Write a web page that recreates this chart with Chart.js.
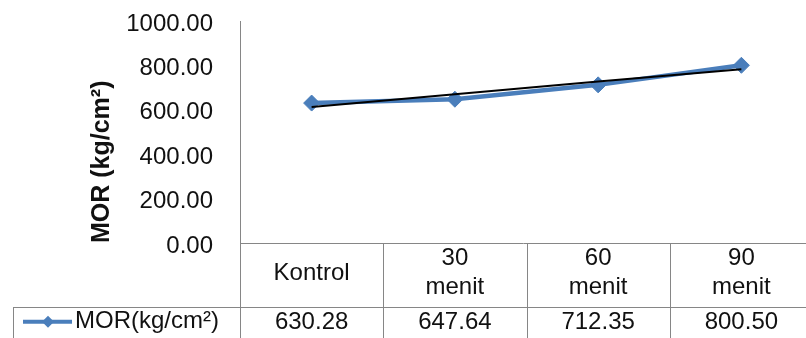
<!DOCTYPE html>
<html>
<head>
<meta charset="utf-8">
<script src="https://cdn.jsdelivr.net/npm/chart.js@4"></script>
<style>
    html, body { margin: 0; padding: 0; overflow: hidden; background: #fff; }
    canvas { display: block; }
</style>
</head>
<body>
<canvas id="lineChart" width="806" height="338"></canvas>
<script>
// Chart data
var categories = [['Kontrol'], ['30', 'menit'], ['60', 'menit'], ['90', 'menit']];
var morValues = [630.28, 647.64, 712.35, 800.50];
var trendValues = [613, 670, 727, 783];
var yTicks = [0, 200, 400, 600, 800, 1000];
var seriesName = 'MOR(kg/cm²)';
var axisTitle = 'MOR (kg/cm²)';

var FONT = '"Liberation Sans", Arial, sans-serif';
var BLUE = '#4A7EBB';
var GRID = '#868686';
var TEXT = '#111';
var PLOT_RIGHT = 813; // the source plot runs a few px past the right edge

// stretch the x scale past the canvas edge
var widePlot = {
    id: 'widePlot',
    afterLayout: function (chart) {
        var x = chart.scales.x;
        x.right = PLOT_RIGHT;
        x.width = PLOT_RIGHT - x.left;
        x.configure();
        chart.chartArea.right = PLOT_RIGHT;
        chart.chartArea.width = PLOT_RIGHT - chart.chartArea.left;
    }
};

// Excel style data table under the plot
var dataTable = {
    id: 'dataTable',
    afterDraw: function (chart) {
        var ctx = chart.ctx;
        var x = chart.scales.x;
        var top = chart.chartArea.bottom;
        var mid = 307.5;
        var bottom = chart.height;
        var labels = chart.data.labels;
        var half = (x.getPixelForValue(1) - x.getPixelForValue(0)) / 2;

        ctx.save();
        ctx.strokeStyle = GRID;
        ctx.lineWidth = 1;
        ctx.beginPath();
        for (var i = 0; i <= labels.length; i++) {
            var px = Math.round(x.getPixelForValue(0) - half + i * 2 * half) + 0.5;
            ctx.moveTo(px, top);
            ctx.lineTo(px, bottom);
        }
        ctx.moveTo(13, mid);
        ctx.lineTo(x.right, mid);
        ctx.moveTo(13.5, mid);
        ctx.lineTo(13.5, bottom);
        ctx.stroke();

        ctx.fillStyle = TEXT;
        ctx.font = '24px ' + FONT;
        ctx.textAlign = 'center';
        ctx.textBaseline = 'middle';
        var headMid = (top + mid) / 2;
        var rowMid = (mid + bottom) / 2;
        labels.forEach(function (lines, i) {
            var cx = x.getPixelForValue(i);
            lines.forEach(function (t, j) {
                ctx.fillText(t, cx, headMid - 2 + (j - (lines.length - 1) / 2) * 29);
            });
            ctx.fillText(morValues[i].toFixed(2), cx, rowMid);
        });

        // legend key
        var ds = chart.data.datasets[1];
        ctx.strokeStyle = ds.borderColor;
        ctx.lineWidth = 4;
        ctx.beginPath();
        ctx.moveTo(23, rowMid - 1);
        ctx.lineTo(72, rowMid - 1);
        ctx.stroke();
        ctx.fillStyle = ds.borderColor;
        ctx.beginPath();
        ctx.moveTo(48, rowMid - 7);
        ctx.lineTo(54, rowMid - 1);
        ctx.lineTo(48, rowMid + 5);
        ctx.lineTo(42, rowMid - 1);
        ctx.closePath();
        ctx.fill();
        ctx.fillStyle = TEXT;
        ctx.textAlign = 'left';
        ctx.fillText(seriesName, 75, rowMid - 1);
        ctx.restore();
    }
};

var ctx = document.getElementById('lineChart').getContext('2d');

var lineChart = new Chart(ctx, {
    type: 'line',
    data: {
        labels: categories,
        datasets: [{
            label: 'Linear',
            data: trendValues,
            borderColor: '#000',
            borderWidth: 2,
            pointRadius: 0,
            tension: 0,
            order: 0
        }, {
            label: seriesName,
            data: morValues,
            borderColor: BLUE,
            backgroundColor: BLUE,
            borderWidth: 4.5,
            pointStyle: 'rectRot',
            pointRadius: 8,
            pointBorderWidth: 1,
            pointBackgroundColor: BLUE,
            tension: 0,
            order: 1
        }]
    },
    options: {
        responsive: false,
        animation: false,
        layout: { padding: { top: 21, left: 0, right: 0, bottom: 0 } },
        plugins: {
            legend: { display: false },
            tooltip: { enabled: false }
        },
        scales: {
            x: {
                offset: true,
                grid: { display: false, drawTicks: false },
                border: { display: true, color: GRID },
                ticks: { display: false },
                afterFit: function (s) { s.height = 95; }
            },
            y: {
                min: 0,
                max: 1000,
                afterBuildTicks: function (s) {
                    s.ticks = yTicks.map(function (v) { return { value: v }; });
                },
                grid: { display: false, drawTicks: false },
                border: { display: true, color: GRID },
                ticks: {
                    padding: 27,
                    labelOffset: 3,
                    color: TEXT,
                    font: { family: FONT, size: 24 },
                    callback: function (v) { return v.toFixed(2); }
                },
                title: {
                    display: true,
                    text: axisTitle,
                    align: 'start',
                    color: TEXT,
                    font: { family: FONT, size: 25, weight: 'bold' },
                    padding: { top: 87, bottom: 0 }
                },
                afterFit: function (s) {
                    s.width = 240;
                    s.paddingTop = 0;
                    s.paddingBottom = 0;
                }
            }
        }
    },
    plugins: [widePlot, dataTable]
});
</script>
</body>
</html>
